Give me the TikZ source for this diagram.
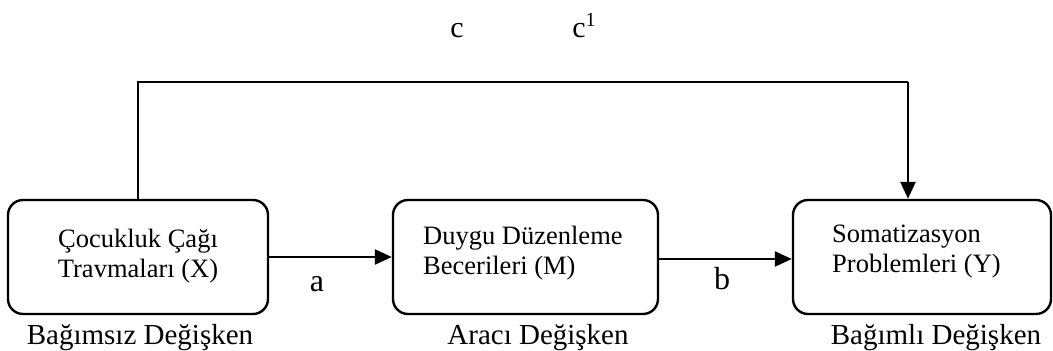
\documentclass[tikz,border=0pt]{standalone}
\usepackage{fontspec}
\setmainfont{Liberation Serif}
\usetikzlibrary{arrows.meta}
\begin{document}
\begin{tikzpicture}[x=1pt,y=1pt,
  varbox/.style={draw,line width=2.4pt,rounded corners=15pt,minimum height=114pt,inner sep=0pt},
  boxtext/.style={font=\fontsize{26.5}{30}\selectfont,inner sep=0pt},
  roletext/.style={font=\fontsize{29}{33}\selectfont,inner sep=0pt},
  pathtext/.style={font=\fontsize{32}{36}\selectfont,inner sep=0pt,anchor=base},
  link/.style={line width=2.4pt,-{Triangle[length=17pt,width=15pt]}}]
\useasboundingbox (0,0) rectangle (1053,351);

% the three variable boxes
\node[varbox,minimum width=260pt] (X) at (138,94) {};
\node[varbox,minimum width=265pt] (M) at (525.5,94) {};
\node[varbox,minimum width=258pt] (Y) at (922,94) {};

% box contents
\node[boxtext,align=center] (Xt) at (138,95) {Çocukluk Çağı\\Travmaları (X)};
\node[boxtext,align=left,anchor=west] (Mt) at (423,98) {Duygu Düzenleme\\Becerileri (M)};
\node[boxtext,align=left,anchor=west] (Yt) at (832,99) {Somatizasyon\\Problemleri (Y)};

% roles below the boxes
\node[roletext] (Xr) at (140,13) {Bağımsız Değişken};
\node[roletext] (Mr) at (538,13) {Aracı Değişken};
\node[roletext] (Yr) at (936,13) {Bağımlı Değişken};

% indirect path
\draw[link] (X.east) -- (M.west);
\draw[link] ([yshift=-2pt]M.east) -- ([yshift=-2pt]Y.west);
\node[pathtext] (a) at (317,59) {a};
\node[pathtext] (b) at (722,61) {b};

% direct path over the top
\coordinate (topR) at (908,269);
\draw[line width=2.4pt] (X.north) |- (topR);
\draw[link] (topR) -- (topR |- Y.north);
\node[pathtext,font=\fontsize{30}{34}\selectfont] (c) at (457,313) {c};
\node[pathtext,font=\fontsize{30}{34}\selectfont] (c1) at (584,313) {c\raisebox{11pt}{\fontsize{20}{22}\selectfont 1}};
\end{tikzpicture}
\end{document}
